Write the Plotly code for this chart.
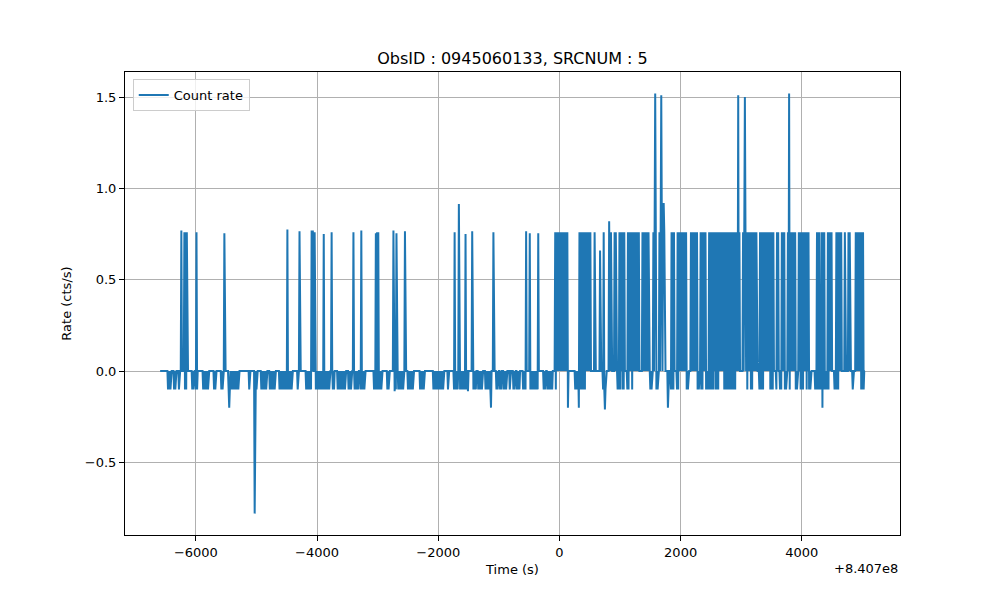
import numpy as np
import plotly.graph_objects as go

# light curve, time relative to 8.407e8 s, 10 s bins
t_start, t_end, t_bin = -6590, 5045, 10

# isolated spikes (time, rate)
spike_t = [-6243, -6190, -6165, -6150, -5987, -5526, -4489, -4291, -4087, -4070, -4038,
           -3885, -3764, -3402, -3270, -3029, -3010, -2985, -2744, -2689, -2546,
           -1728, -1662, -1547, -1437, -1086, -548, -494, -346, 132, 580, 670, 735, 823,
           1580, 1685, 1717, 2952, 3062, 3786]
spike_v = [0.77, 0.76, 0.76, 0.76, 0.76, 0.755, 0.775, 0.765, 0.77, 0.77, 0.76,
           0.75, 0.76, 0.76, 0.77, 0.755, 0.76, 0.76, 0.77, 0.755, 0.765,
           0.76, 0.915, 0.75, 0.765, 0.76, 0.765, 0.755, 0.755, 0.76, 0.76, 0.66, 0.76, 0.82,
           1.52, 1.51, 0.92, 1.51, 1.50, 1.52]

# deep dips (time, rate)
dip_t = [-5450, -5030, -2720, -1509, -1125, 137, 318, 755, 1790, 4340]
dip_v = [-0.2, -0.78, -0.11, -0.11, -0.2, -0.2, -0.2, -0.21, -0.2, -0.2]

# stretches where the rate flips between 0 and ~0.76 bin to bin
high_start = [-82, 318, 840, 900, 980, 1120, 1370, 1535, 1635, 1780, 1835, 1945, 2155, 2330,
              2460, 3025, 3305, 3590, 3655, 3755, 3940, 4235, 4330, 4420, 4554, 4691, 4767,
              4883]
high_end = [110, 522, 860, 940, 1075, 1320, 1485, 1590, 1735, 1790, 1900, 2105, 2280, 2410,
            2975, 3255, 3545, 3610, 3710, 3890, 4115, 4290, 4385, 4499, 4653, 4729, 4790,
            5020]
high_rate = 0.76

# stretches where the rate flips between 0 and -0.1
low_start = [-6474, -6365, -6293, -6183, -6074, -6008, -5887, -5717, -5585, -5470, -5130,
             -5010, -4938, -4790, -4636, -4334, -4197, -4044, -3860, -3742, -3676, -3495,
             -3391, -3292, -3062, -2843, -2754, -2662, -2514, -2316, -2096, -1855, -1756,
             -1646, -1454, -1345, -1234, -1042, -988, -922, -834, -779, -702, -614, -483,
             -275, -203, -60, 247, 713, 960, 1031, 1108, 1200, 1493, 1591, 1838, 1921,
             2085, 2277, 2332, 2414, 2579, 2716, 3083, 3155, 3281, 3468, 3567, 3633, 3720,
             3786, 3885, 3978, 4071, 4115, 4214, 4526, 4828, 4965]
low_end = [-6403, -6325, -6266, -6144, -6036, -5980, -5799, -5667, -5558, -5295, -5103,
           -4995, -4828, -4691, -4416, -4307, -4087, -3880, -3797, -3715, -3539, -3429,
           -3320, -3205, -2935, -2810, -2689, -2580, -2415, -2222, -1909, -1822, -1674,
           -1536, -1371, -1273, -1140, -1004, -943, -877, -811, -724, -658, -548, -357,
           -230, -120, -50, 428, 769, 1004, 1070, 1152, 1215, 1536, 1635, 1893, 1964,
           2129, 2304, 2370, 2551, 2622, 2908, 3116, 3193, 3374, 3539, 3593, 3665, 3758,
           3814, 3939, 4033, 4088, 4159, 4444, 4609, 4855, 5020]
low_rate = -0.1

time = np.arange(t_start, t_end, t_bin)
rate = np.zeros(len(time))
idx = np.arange(len(time))
for a, b in zip(high_start, high_end):
    m = (time >= a) & (time <= b) & (idx % 2 == 0)
    rate[m] = high_rate
for a, b in zip(low_start, low_end):
    m = (time >= a) & (time <= b) & (idx % 2 == 1) & (rate == 0)
    rate[m] = low_rate
for tt, v in zip(spike_t, spike_v):
    rate[np.argmin(np.abs(time - tt))] = v
for tt, v in zip(dip_t, dip_v):
    rate[np.argmin(np.abs(time - tt))] = v

fig = go.Figure()
fig.add_trace(go.Scatter(x=time, y=rate, mode='lines', name='Count rate',
                         line=dict(color='#1f77b4', width=2)))

axis_style = dict(showgrid=True, gridcolor='#b0b0b0', gridwidth=0.8, zeroline=False,
                  showline=True, linecolor='black', linewidth=1, mirror=True,
                  ticks='outside', ticklen=5, tickcolor='black',
                  tickfont=dict(size=13, color='black'))

# page body adds an 8 px offset, margins compensate for it
fig.update_layout(
    width=1000, height=600,
    paper_bgcolor='white', plot_bgcolor='white',
    font=dict(family='DejaVu Sans', color='black'),
    margin=dict(l=117, r=108, t=64, b=73),
    title=dict(text='ObsID : 0945060133, SRCNUM : 5', x=(117 + 892) / 2 / 1000, xanchor='center',
               y=1 - 50 / 600, yanchor='middle', font=dict(size=16, color='black')),
    showlegend=True,
    legend=dict(x=0.01, y=0.985, xanchor='left', yanchor='top',
                bgcolor='rgba(255,255,255,0.8)', bordercolor='#cccccc', borderwidth=1,
                font=dict(size=13, color='black')),
    xaxis=dict(range=[-7170, 5620], tickvals=[-6000, -4000, -2000, 0, 2000, 4000],
               title=dict(text='Time (s)', font=dict(size=13, color='black'), standoff=6),
               **axis_style),
    yaxis=dict(range=[-0.897, 1.637], tickvals=[-0.5, 0, 0.5, 1.0, 1.5], tickformat='.1f',
               title=dict(text='Rate (cts/s)', font=dict(size=13, color='black'), standoff=10),
               **axis_style),
)
fig.add_annotation(text='+8.407e8', xref='paper', yref='paper', x=1, y=0,
                   xanchor='right', yanchor='top', yshift=-24, showarrow=False,
                   font=dict(size=13, color='black'))

fig.write_html("out.html")
